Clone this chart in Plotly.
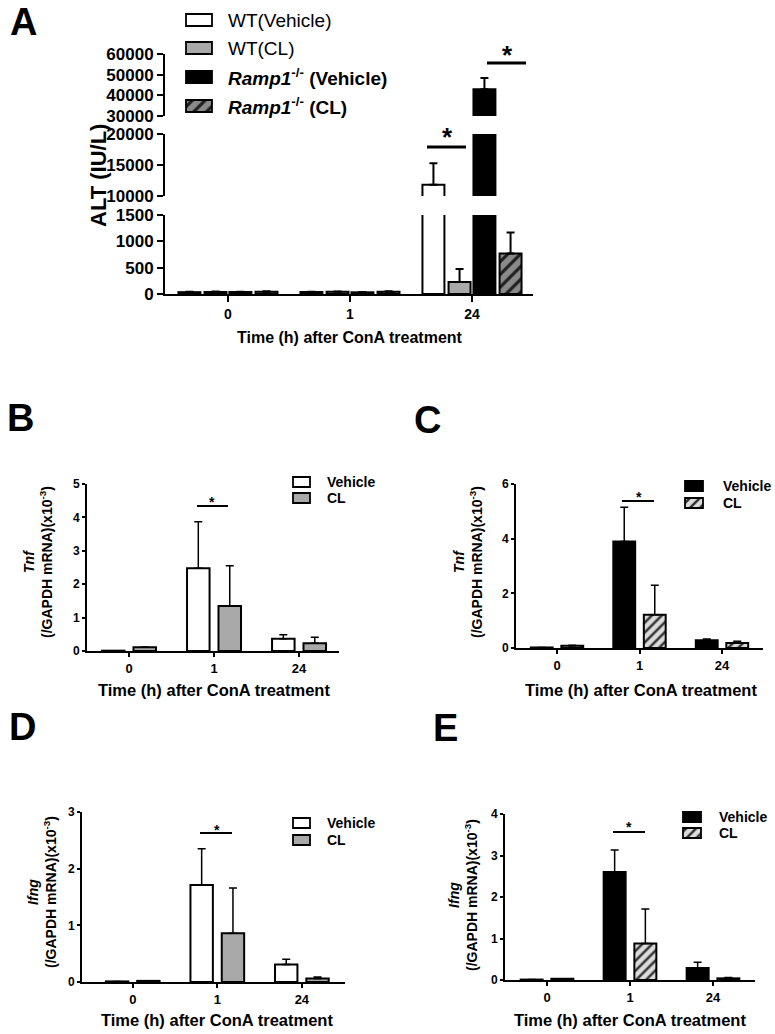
import plotly.graph_objects as go

W, H = 775, 1034
FONT = "Liberation Sans, Arial, sans-serif"

# ---------------- data ----------------
timepoints = ["0", "1", "24"]

# Panel A: ALT (IU/L)
a_wt_vehicle = [35, 38, 11800]
a_wt_vehicle_sd = [6, 6, 3500]
a_wt_cl = [40, 42, 230]
a_wt_cl_sd = [6, 6, 245]
a_ko_vehicle = [38, 32, 43000]
a_ko_vehicle_sd = [6, 6, 5400]
a_ko_cl = [45, 45, 770]
a_ko_cl_sd = [6, 6, 400]

# Panel B: Tnf, WT
b_vehicle = [0.01, 2.48, 0.37]
b_vehicle_sd = [0.0, 1.39, 0.12]
b_cl = [0.11, 1.35, 0.23]
b_cl_sd = [0.01, 1.20, 0.18]

# Panel C: Tnf, Ramp1-/-
c_vehicle = [0.02, 3.90, 0.28]
c_vehicle_sd = [0.0, 1.25, 0.05]
c_cl = [0.08, 1.22, 0.18]
c_cl_sd = [0.02, 1.08, 0.07]

# Panel D: Ifng, WT
d_vehicle = [0.01, 1.71, 0.31]
d_vehicle_sd = [0.0, 0.64, 0.09]
d_cl = [0.02, 0.86, 0.06]
d_cl_sd = [0.0, 0.80, 0.03]

# Panel E: Ifng, Ramp1-/-
e_vehicle = [0.01, 2.60, 0.29]
e_vehicle_sd = [0.0, 0.53, 0.14]
e_cl = [0.03, 0.88, 0.04]
e_cl_sd = [0.0, 0.83, 0.02]

a_legend = ["WT(Vehicle)", "WT(CL)",
            "<b><i>Ramp1</i><sup>-/-</sup> (Vehicle)</b>",
            "<b><i>Ramp1</i><sup>-/-</sup> (CL)</b>"]
sub_legend = ["Vehicle", "CL"]
x_title = "Time (h) after ConA treatment"

# ---------------- styles ----------------
LINE = dict(color="black", width=2)
ST_WT_VEH = dict(color="white", line=LINE)
ST_WT_CL = dict(color="#a9a9a9", line=LINE)
ST_KO_VEH = dict(color="black", line=LINE)
ST_KO_CL_A = dict(color="#8a8a8a", line=LINE,
                  pattern=dict(shape="/", fgcolor="#1e1e1e", bgcolor="#8a8a8a",
                               size=9, solidity=0.35, fillmode="replace"))
ST_KO_CL = dict(color="#dcdcdc", line=LINE,
                pattern=dict(shape="/", fgcolor="#303030", bgcolor="#dcdcdc",
                             size=7, solidity=0.35, fillmode="replace"))

cats = list(range(len(timepoints)))
traces = []


def bar(vals, sd, xa, ya, marker, width, offset, thick=2, cap=4):
    return go.Bar(
        x=cats, y=vals, xaxis=xa, yaxis=ya, width=width, offset=offset,
        marker=marker, showlegend=False, hoverinfo="skip",
        error_y=dict(type="data", symmetric=False, array=sd,
                     arrayminus=[0] * len(sd), color="black",
                     thickness=thick, width=cap))


# Panel A: broken axis -> same series on three y axes
a_series = [(a_wt_vehicle, a_wt_vehicle_sd, ST_WT_VEH),
            (a_wt_cl, a_wt_cl_sd, ST_WT_CL),
            (a_ko_vehicle, a_ko_vehicle_sd, ST_KO_VEH),
            (a_ko_cl, a_ko_cl_sd, ST_KO_CL_A)]
a_centers = [-0.316, -0.102, 0.102, 0.316]
a_width = 0.18
for ya in ["y", "y2", "y3"]:
    for (v, s, st), c in zip(a_series, a_centers):
        traces.append(bar(v, s, "x", ya, st, a_width, c - a_width / 2))

# Panels B-E
small = [
    ("x2", "y4", b_vehicle, b_vehicle_sd, ST_WT_VEH, b_cl, b_cl_sd, ST_WT_CL),
    ("x3", "y5", c_vehicle, c_vehicle_sd, ST_KO_VEH, c_cl, c_cl_sd, ST_KO_CL),
    ("x4", "y6", d_vehicle, d_vehicle_sd, ST_WT_VEH, d_cl, d_cl_sd, ST_WT_CL),
    ("x5", "y7", e_vehicle, e_vehicle_sd, ST_KO_VEH, e_cl, e_cl_sd, ST_KO_CL),
]
sw = 0.265
for xa, ya, v1, s1, st1, v2, s2, st2 in small:
    traces.append(bar(v1, s1, xa, ya, st1, sw, -0.185 - sw / 2, thick=1.5, cap=4))
    traces.append(bar(v2, s2, xa, ya, st2, sw, 0.185 - sw / 2, thick=1.5, cap=4))


# legend swatches drawn on a hidden pixel-space axis
def swatch(x0, x1, yc, h, marker):
    m = dict(marker)
    m["line"] = dict(color="black", width=1.8)
    return go.Bar(orientation="h", x=[x1 - x0], base=[x0], y=[yc], width=[h],
                  xaxis="x6", yaxis="y8", marker=m, showlegend=False,
                  hoverinfo="skip")


for yc, st in zip([20, 48, 77, 106], [ST_WT_VEH, ST_WT_CL, ST_KO_VEH, ST_KO_CL_A]):
    traces.append(swatch(186, 212, yc, 12, st))
for x0, x1, ys, sts in [(293, 310, (482, 498), (ST_WT_VEH, ST_WT_CL)),
                        (685, 703, (486, 503), (ST_KO_VEH, ST_KO_CL)),
                        (293, 310, (823, 840), (ST_WT_VEH, ST_WT_CL)),
                        (683, 701, (817, 833), (ST_KO_VEH, ST_KO_CL))]:
    for yc, st in zip(ys, sts):
        traces.append(swatch(x0, x1, yc, 10, st))

fig = go.Figure(traces)


def px(x):
    return x / W


def py(y):
    return 1 - y / H


def xaxis(x0, x1, rng, anchor, fs, tl=6, tw=2):
    return dict(domain=[px(x0), px(x1)], range=rng, anchor=anchor,
                tickvals=cats, ticktext=timepoints, showline=True,
                linecolor="black", linewidth=2, ticks="outside", ticklen=tl,
                tickwidth=tw, tickcolor="black", showgrid=False, zeroline=False,
                tickfont=dict(family=FONT, size=fs, color="black", weight="bold"),
                fixedrange=True, automargin=False)


def yaxis(ybot, ytop, rng, tickvals, fs, tl=6, tw=2, anchor="x"):
    return dict(domain=[py(ybot), py(ytop)], range=rng, anchor=anchor,
                tickvals=tickvals, tickformat="d", showline=True,
                linecolor="black", linewidth=2, ticks="outside", ticklen=tl,
                tickwidth=tw, tickcolor="black", showgrid=False, zeroline=False,
                tickfont=dict(family=FONT, size=fs, color="black", weight="bold"),
                fixedrange=True, automargin=False)


fig.update_layout(
    width=W, height=H, margin=dict(l=0, r=0, t=0, b=0, pad=0, autoexpand=False),
    paper_bgcolor="white", plot_bgcolor="rgba(0,0,0,0)",
    barmode="overlay", showlegend=False,
    font=dict(family=FONT, color="black"),
    xaxis=xaxis(165, 533, [-0.516, 2.5], "y", 14),
    yaxis=yaxis(294, 215, [0, 1500], [0, 500, 1000, 1500], 17),
    yaxis2=yaxis(196, 134, [10000, 20000], [10000, 15000, 20000], 17),
    yaxis3=yaxis(116, 54, [30000, 60000], [30000, 40000, 50000, 60000], 17),
    xaxis2=xaxis(87, 339, [-0.494, 2.47], "y4", 13, tl=4, tw=1.5),
    yaxis4=yaxis(651, 484, [0, 5], [0, 1, 2, 3, 4, 5], 12, tl=3, tw=1.5, anchor="x2"),
    xaxis3=xaxis(516, 763, [-0.497, 2.497], "y5", 13, tl=4, tw=1.5),
    yaxis5=yaxis(648, 484, [0, 6], [0, 2, 4, 6], 12, tl=3, tw=1.5, anchor="x3"),
    xaxis4=xaxis(82, 345, [-0.60, 2.51], "y6", 13, tl=4, tw=1.5),
    yaxis6=yaxis(982, 812, [0, 3], [0, 1, 2, 3], 12, tl=3, tw=1.5, anchor="x4"),
    xaxis5=xaxis(505, 755, [-0.506, 2.506], "y7", 13, tl=4, tw=1.5),
    yaxis7=yaxis(980, 814, [0, 4], [0, 1, 2, 3, 4], 12, tl=3, tw=1.5, anchor="x5"),
    xaxis6=dict(domain=[0, 1], range=[0, W], visible=False, anchor="y8",
                fixedrange=True, automargin=False),
    yaxis8=dict(domain=[0, 1], range=[H, 0], visible=False, anchor="x6",
                fixedrange=True, automargin=False),
)

anns = []
shapes = []


def ann(text, x, y, size, angle=0, xanchor="center", yanchor="middle"):
    anns.append(dict(text=text, x=x, y=y, xref="x6", yref="y8", showarrow=False,
                     xanchor=xanchor, yanchor=yanchor, textangle=angle,
                     font=dict(family=FONT, size=size, color="black")))


def hline(x0, x1, y, w):
    shapes.append(dict(type="line", xref="x6", yref="y8", x0=x0, x1=x1, y0=y, y1=y,
                       line=dict(color="black", width=w)))


# panel letters
for letter, x, y in [("A", 23, 22), ("B", 20, 418), ("C", 427, 420),
                     ("D", 22, 727), ("E", 445, 728)]:
    ann("<b>%s</b>" % letter, x, y, 38)

# Panel A texts
for t, yc in zip(a_legend, [20, 48, 77, 106]):
    ann(t, 226, yc, 19, xanchor="left")
ann("<b>ALT (IU/L)</b>", 98, 176, 22, angle=-90)
ann("<b>%s</b>" % x_title, 350, 337, 16)
hline(427, 466, 147, 3)
hline(487, 526, 63, 3)
ann("<b>*</b>", 447, 137, 26)
ann("<b>*</b>", 507, 55, 26)

# Panels B-E texts
ytitles = [("<i>Tnf</i>", 38, 562), ("<i>Tnf</i>", 468, 562),
           ("<i>Ifng</i>", 42, 892), ("<i>Ifng</i>", 463, 895)]
for gene, x, y in ytitles:
    ann("<b>%s<br>(/GAPDH mRNA)(x10<sup>-3</sup>)</b>" % gene, x, y, 14, angle=-90)

for x, y in [(214, 690), (641, 690), (217, 1020), (630, 1020)]:
    ann("<b>%s</b>" % x_title, x, y, 16.5)

for xt, ys in [(325, (482, 498)), (721, (486, 503)), (325, (823, 840)), (717, (817, 833))]:
    for t, yc in zip(sub_legend, ys):
        ann("<b>%s</b>" % t, xt, yc, 14, xanchor="left")

for x0, x1, y, sx, sy in [(197, 228, 506, 212, 502), (622, 654, 501, 639, 497),
                          (200, 232, 833, 217, 830), (613, 645, 832, 629, 827)]:
    hline(x0, x1, y, 2)
    ann("<b>*</b>", sx, sy, 14)

fig.update_layout(annotations=anns, shapes=shapes)
fig.write_html(
    "out.html",
    config={"displayModeBar": False},
    post_script="document.body.style.margin='0px';document.body.style.overflow='hidden';",
)
